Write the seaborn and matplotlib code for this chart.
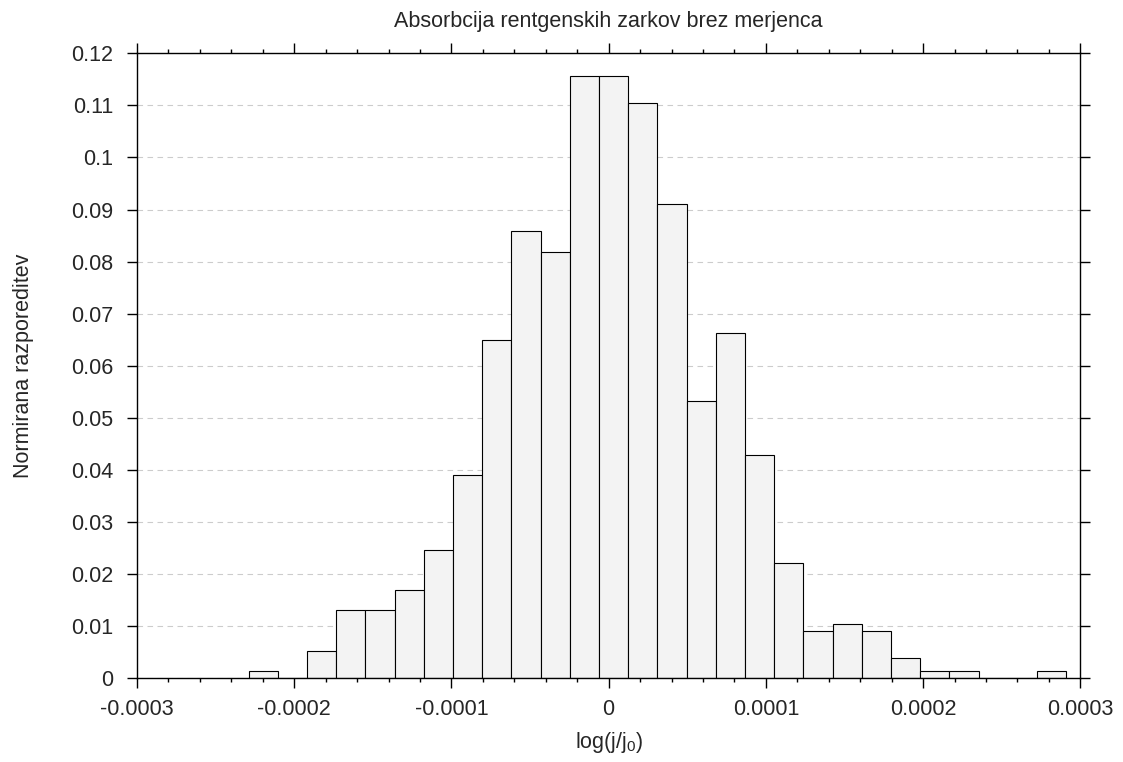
import numpy as np
import pandas as pd
import seaborn as sns
import matplotlib
matplotlib.use("Agg")
import matplotlib.pyplot as plt
from matplotlib.ticker import MultipleLocator, AutoMinorLocator, FuncFormatter

# histogram range and number of bins
x_lo = -0.000229
x_hi = 0.000291
n_bins = 28

# normalised fraction in each bin, left to right
fractions = [0.0013, 0.0, 0.0052, 0.0130, 0.0130, 0.0169, 0.0247, 0.0390,
             0.0650, 0.0858, 0.0819, 0.1157, 0.1157, 0.1105, 0.0910, 0.0533,
             0.0663, 0.0429, 0.0221, 0.0091, 0.0104, 0.0091, 0.0039, 0.0013,
             0.0013, 0.0, 0.0, 0.0013]

title = "Absorbcija rentgenskih zarkov brez merjenca"
xlabel = r"log(j/j$_0$)"
ylabel = "Normirana razporeditev"

edges = np.linspace(x_lo, x_hi, n_bins + 1)
df = pd.DataFrame({'x': (edges[:-1] + edges[1:]) / 2, 'w': fractions})

sns.set_style("ticks")
plt.rcParams['font.family'] = ['Liberation Sans', 'DejaVu Sans']
plt.rcParams['mathtext.fontset'] = 'custom'
plt.rcParams['mathtext.rm'] = 'Liberation Sans'
plt.rcParams['mathtext.it'] = 'Liberation Sans'

fs = 15.5
fig = plt.figure(figsize=(11.23, 7.62), dpi=100)
ax = fig.add_axes([0.122, 0.110, 0.840, 0.820])

sns.histplot(data=df, x='x', weights='w', bins=list(edges), ax=ax,
             color='#f3f3f3', edgecolor='black', linewidth=0.8, alpha=1)

ax.set_xlim(-0.0003, 0.0003)
ax.set_ylim(0, 0.12)
ax.xaxis.set_major_locator(MultipleLocator(0.0001))
ax.xaxis.set_minor_locator(AutoMinorLocator(5))
ax.yaxis.set_major_locator(MultipleLocator(0.01))
fmt = FuncFormatter(lambda v, p: '%g' % round(v, 8))
ax.xaxis.set_major_formatter(fmt)
ax.yaxis.set_major_formatter(fmt)

ax.grid(axis='y', color='#cccccc', linestyle=(0, (5, 4)), linewidth=0.8)
ax.set_axisbelow(True)

for s in ax.spines.values():
    s.set_visible(True)
    s.set_linewidth(1.0)
    s.set_color('black')

ax.tick_params(which='both', direction='out', top=True, right=True,
               labelsize=fs, color='black', width=1.0)
ax.tick_params(which='major', length=7)
ax.tick_params(which='minor', length=3)
ax.tick_params(axis='x', which='major', pad=8)
ax.tick_params(axis='y', which='major', pad=10)
ax.tick_params(axis='y', which='minor', left=False, right=False)

ax.set_title(title, fontsize=fs, pad=19)
ax.set_xlabel(xlabel, fontsize=fs, labelpad=7)
ax.set_ylabel(ylabel, fontsize=fs, labelpad=27)

fig.savefig("out.png", dpi=100)
